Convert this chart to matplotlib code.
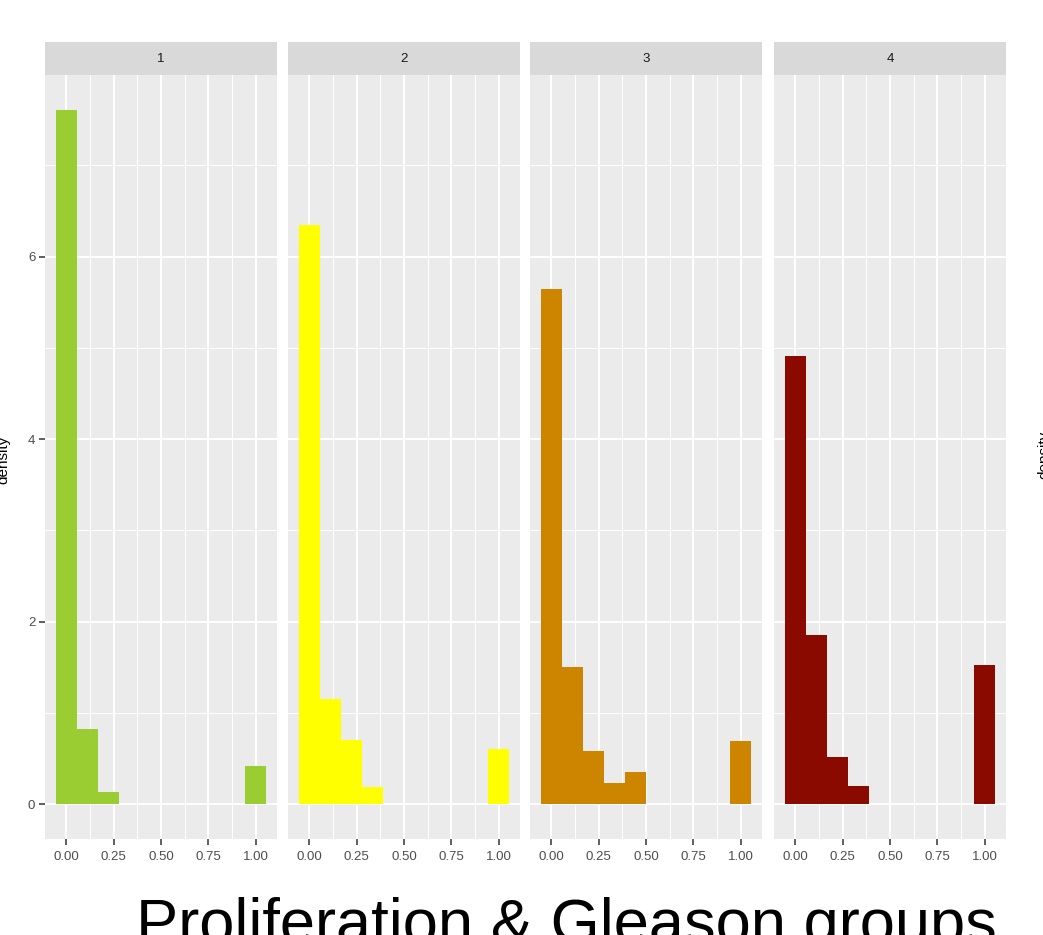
import matplotlib.pyplot as plt
import numpy as np

# facet labels and bar colours
groups = ['1', '2', '3', '4']
colors = ['#9ACD32', '#FFFF00', '#CD8500', '#8B0A00']

# histogram bins (binwidth 1/9, centred on 0 ... 1)
bin_centers = np.arange(10) / 9

# density per bin
dens_1 = [7.61, 0.83, 0.14, 0, 0, 0, 0, 0, 0, 0.42]
dens_2 = [6.35, 1.15, 0.71, 0.19, 0, 0, 0, 0, 0, 0.61]
dens_3 = [5.65, 1.50, 0.58, 0.23, 0.35, 0, 0, 0, 0, 0.69]
dens_4 = [4.91, 1.85, 0.52, 0.20, 0, 0, 0, 0, 0, 1.53]
densities = [dens_1, dens_2, dens_3, dens_4]

x_ticks = [0, 0.25, 0.5, 0.75, 1.0]
x_ticklabels = ['0.00', '0.25', '0.50', '0.75', '1.00']
y_ticks = [0, 2, 4, 6]

W, H = 1043, 935
fig = plt.figure(figsize=(W / 100, H / 100), dpi=100)
plt.rcParams['font.family'] = ['Liberation Sans', 'DejaVu Sans']

lefts = [45, 288, 530, 774]
pw = 232
top, bottom, strip_top = 75, 839, 42

for i, g in enumerate(groups):
	ax = fig.add_axes([lefts[i] / W, 1 - bottom / H, pw / W, (bottom - top) / H])
	ax.set_facecolor('#EBEBEB')
	ax.bar(bin_centers, densities[i], width=1 / 9, color=colors[i], linewidth=0, zorder=3)
	ax.set_xlim(-0.111, 1.111)
	ax.set_ylim(-0.38, 7.99)
	ax.set_xticks(x_ticks)
	ax.set_xticklabels(x_ticklabels)
	ax.set_xticks([0.125, 0.375, 0.625, 0.875], minor=True)
	ax.set_yticks(y_ticks)
	ax.set_yticks([1, 3, 5, 7], minor=True)
	ax.grid(which='major', color='white', linewidth=1.4, zorder=1)
	ax.grid(which='minor', color='white', linewidth=0.7, zorder=1)
	ax.set_axisbelow(True)
	for s in ax.spines.values():
		s.set_visible(False)
	ax.tick_params(axis='x', which='major', length=4, width=1.1, color='#333333',
	               labelcolor='#4D4D4D', labelsize=9.5, pad=5)
	ax.tick_params(which='minor', length=0)
	if i == 0:
		ax.tick_params(axis='y', which='major', length=4, width=1.1, color='#333333',
		               labelcolor='#4D4D4D', labelsize=9.5, pad=3)
	else:
		ax.tick_params(axis='y', which='major', length=0, labelleft=False)

	sax = fig.add_axes([lefts[i] / W, 1 - top / H, pw / W, (top - strip_top) / H])
	sax.set_facecolor('#D9D9D9')
	sax.set_xticks([])
	sax.set_yticks([])
	for s in sax.spines.values():
		s.set_visible(False)
	sax.text(0.5, 0.5, g, ha='center', va='center', fontsize=9.5, color='#1A1A1A',
	         transform=sax.transAxes)

fig.text(3 / W, 1 - 460 / H, 'density', rotation=90, ha='center', va='center',
         fontsize=11, color='black')
fig.text(1044 / W, 1 - 455 / H, 'density', rotation=90, ha='center', va='center',
         fontsize=11, color='black')
fig.text(566 / W, 1 - 926 / H, 'Proliferation & Gleason groups', ha='center', va='center',
         fontsize=45.5, color='black')

fig.savefig('out.png', dpi=100)
